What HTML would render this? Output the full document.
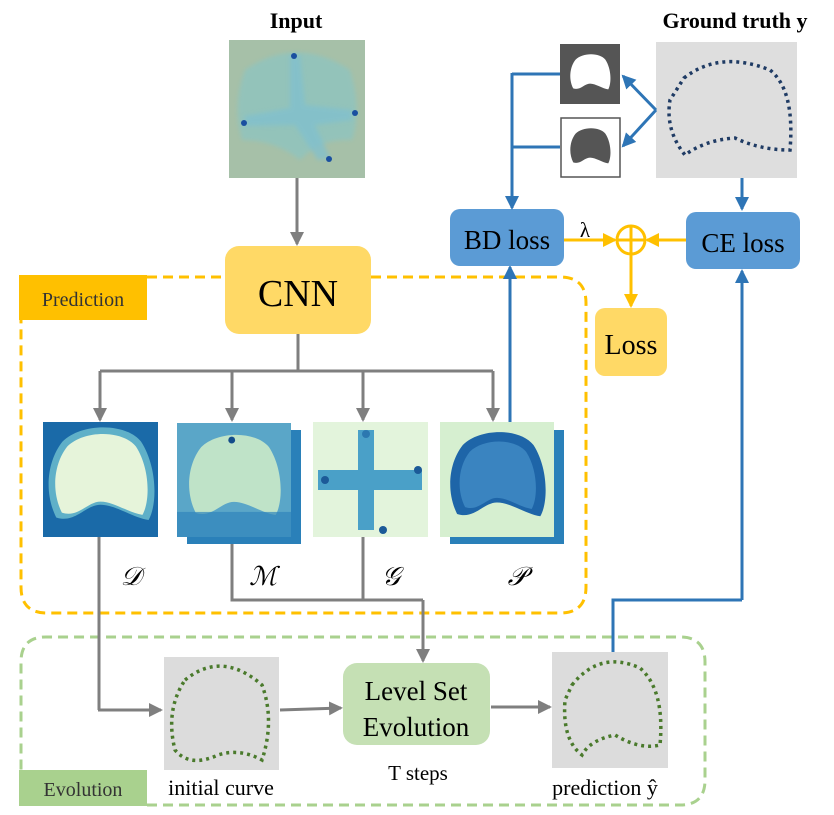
<!DOCTYPE html>
<html><head><meta charset="utf-8"><style>html,body{margin:0;padding:0;background:#fff}svg{display:block}</style></head>
<body>
<svg width="834" height="815" viewBox="0 0 834 815" xmlns="http://www.w3.org/2000/svg" font-family="Liberation Serif, serif">
<defs>
<marker id="ag" markerWidth="14" markerHeight="14" refX="12" refY="7" orient="auto" markerUnits="userSpaceOnUse"><path d="M0,0 L14,7 L0,14 Z" fill="#7f7f7f"/></marker>
<marker id="ab" markerWidth="14" markerHeight="14" refX="12" refY="7" orient="auto" markerUnits="userSpaceOnUse"><path d="M0,0 L14,7 L0,14 Z" fill="#2e75b6"/></marker>
<marker id="ay" markerWidth="14" markerHeight="14" refX="12" refY="7" orient="auto" markerUnits="userSpaceOnUse"><path d="M0,0 L14,7 L0,14 Z" fill="#ffc000"/></marker>
<filter id="bl2"><feGaussianBlur stdDeviation="2"/></filter>
<path id="pros" d="M0.2,0.2 C0.35,0.05 0.7,0.05 0.82,0.2 C0.95,0.4 0.95,0.7 0.88,0.82 C0.75,0.8 0.62,0.7 0.5,0.7 C0.38,0.7 0.3,0.85 0.15,0.8 C0.05,0.6 0.08,0.35 0.2,0.2Z"/>
</defs>

<text x="296" y="28" font-size="22" font-weight="bold" text-anchor="middle">Input</text>
<text x="735" y="28" font-size="22" font-weight="bold" text-anchor="middle">Ground truth y</text>

<rect x="229" y="40" width="136" height="138" fill="#a6c0a8"/>
<path d="M245,70 Q296,35 350,70 Q362,110 352,140 Q320,138 300,160 Q275,140 242,140 Q232,105 245,70Z" fill="#8fc4bf" opacity="0.8" filter="url(#bl2)"/>
<path d="M290,55 L300,55 L305,105 L352,110 L352,120 L315,125 L330,158 L318,160 L295,125 L245,126 L245,116 L290,108Z" fill="#7fc0d0" opacity="0.7" filter="url(#bl2)"/>
<circle cx="294" cy="56" r="3" fill="#1a4fa0"/><circle cx="244" cy="123" r="3" fill="#1a4fa0"/><circle cx="355" cy="113" r="3" fill="#1a4fa0"/><circle cx="329" cy="159" r="3" fill="#1a4fa0"/>
<line x1="297" y1="178" x2="297" y2="244" stroke="#7f7f7f" stroke-width="3" marker-end="url(#ag)"/>

<path d="M147,277 L560,277 Q586,277 586,303 L586,587 Q586,613 560,613 L47,613 Q21,613 21,587 L21,320" fill="none" stroke="#ffc000" stroke-width="3" stroke-dasharray="10,6"/>
<rect x="19" y="275" width="128" height="45" fill="#ffc000"/>
<text x="83" y="306" font-size="20" fill="#333" text-anchor="middle">Prediction</text>

<rect x="225" y="246" width="146" height="88" rx="14" fill="#ffd966"/>
<text x="298" y="306" font-size="38" text-anchor="middle">CNN</text>

<path d="M298,334 V371 M100,371 H493" stroke="#7f7f7f" stroke-width="3" fill="none"/>
<line x1="100" y1="371" x2="100" y2="420" stroke="#7f7f7f" stroke-width="3" marker-end="url(#ag)"/>
<line x1="232" y1="371" x2="232" y2="420" stroke="#7f7f7f" stroke-width="3" marker-end="url(#ag)"/>
<line x1="363" y1="371" x2="363" y2="420" stroke="#7f7f7f" stroke-width="3" marker-end="url(#ag)"/>
<line x1="493" y1="371" x2="493" y2="420" stroke="#7f7f7f" stroke-width="3" marker-end="url(#ag)"/>

<svg x="43" y="422" width="115" height="115" viewBox="0 0 1 1" preserveAspectRatio="none">
<rect width="1" height="1" fill="#1a6aa8"/>
<use href="#pros" fill="#5fb0c8" transform="translate(-0.05,-0.05) scale(1.1)"/>
<use href="#pros" fill="#e6f4da" transform="translate(0.02,0.02) scale(0.96)"/>
</svg>
<rect x="187" y="430" width="114" height="114" fill="#2a80b9"/>
<svg x="177" y="423" width="114" height="114" viewBox="0 0 1 1" preserveAspectRatio="none">
<rect width="1" height="1" fill="#5aa6c8"/>
<use href="#pros" fill="#bfe3c8" transform="translate(0.02,0.02) scale(0.96)"/>
<rect y="0.78" width="1" height="0.22" fill="#2f84ba" opacity="0.7"/>
<circle cx="0.48" cy="0.15" r="0.03" fill="#134c8a"/>
</svg>
<rect x="313" y="422" width="115" height="115" fill="#e3f4dc"/>
<path d="M358,430 h16 v40 h48 v20 h-48 v40 h-16 v-40 h-40 v-20 h40 z" fill="#4aa0c8"/>
<circle cx="366" cy="434" r="4" fill="#2c78b0"/><circle cx="325" cy="480" r="4" fill="#1c5a98"/><circle cx="418" cy="470" r="4" fill="#1c5a98"/><circle cx="383" cy="530" r="4" fill="#1c5a98"/>
<rect x="450" y="430" width="114" height="114" fill="#2a80b9"/>
<svg x="440" y="422" width="114" height="115" viewBox="0 0 1 1" preserveAspectRatio="none">
<rect width="1" height="1" fill="#d6efd0"/>
<use href="#pros" fill="#1e65a8"/>
<use href="#pros" fill="#3a84c0" transform="translate(0.1,0.1) scale(0.8)"/>
</svg>

<text x="131" y="585" font-size="26" font-style="italic" text-anchor="middle">𝒟</text>
<text x="263" y="585" font-size="26" font-style="italic" text-anchor="middle">ℳ</text>
<text x="391" y="585" font-size="26" font-style="italic" text-anchor="middle">𝒢</text>
<text x="517" y="585" font-size="26" font-style="italic" text-anchor="middle">𝒫</text>

<path d="M147,805 L680,805 Q705,805 705,780 L705,662 Q705,637 680,637 L46,637 Q21,637 21,662 L21,770" fill="none" stroke="#a9d18e" stroke-width="3" stroke-dasharray="10,6"/>
<rect x="19" y="770" width="128" height="36" fill="#a9d18e"/>
<text x="83" y="796" font-size="20" fill="#333" text-anchor="middle">Evolution</text>

<path d="M99,537 V710" stroke="#7f7f7f" stroke-width="3" fill="none"/>
<line x1="98" y1="710" x2="161" y2="710" stroke="#7f7f7f" stroke-width="3" marker-end="url(#ag)"/>
<path d="M232,544 V600 H423 M363,537 V600" stroke="#7f7f7f" stroke-width="3" fill="none"/>
<line x1="423" y1="600" x2="423" y2="661" stroke="#7f7f7f" stroke-width="3" marker-end="url(#ag)"/>

<rect x="164" y="657" width="115" height="113" fill="#dcdcdc"/>
<path d="M185,680 Q222,650 262,685 Q275,720 262,760 Q240,748 218,755 Q190,768 175,750 Q165,710 185,680 Z" fill="none" stroke="#4a7a2c" stroke-width="3.5" stroke-dasharray="3,4"/>
<line x1="280" y1="710" x2="341" y2="708" stroke="#7f7f7f" stroke-width="3" marker-end="url(#ag)"/>

<rect x="343" y="663" width="147" height="82" rx="14" fill="#c5e0b4"/>
<text x="416" y="700" font-size="27" text-anchor="middle">Level Set</text>
<text x="416" y="736" font-size="27" text-anchor="middle">Evolution</text>
<text x="418" y="780" font-size="21" text-anchor="middle">T steps</text>
<text x="221" y="795" font-size="22" text-anchor="middle">initial curve</text>

<line x1="491" y1="707" x2="550" y2="707" stroke="#7f7f7f" stroke-width="3" marker-end="url(#ag)"/>
<rect x="552" y="652" width="116" height="116" fill="#dcdcdc"/>
<path d="M572,685 Q600,650 640,668 Q665,690 660,745 Q640,750 615,735 Q590,740 582,755 Q562,740 565,700 Z" fill="none" stroke="#4a7a2c" stroke-width="3.5" stroke-dasharray="3,4"/>
<text x="605" y="795" font-size="22" text-anchor="middle">prediction ŷ</text>

<path d="M613,652 V600 H742" stroke="#2e75b6" stroke-width="3" fill="none"/>
<line x1="742" y1="600" x2="742" y2="271" stroke="#2e75b6" stroke-width="3" marker-end="url(#ab)"/>
<line x1="510" y1="422" x2="510" y2="267" stroke="#2e75b6" stroke-width="3" marker-end="url(#ab)"/>

<rect x="450" y="209" width="114" height="57" rx="10" fill="#5b9bd5"/>
<text x="507" y="249" font-size="27" text-anchor="middle">BD loss</text>
<rect x="686" y="212" width="114" height="57" rx="10" fill="#5b9bd5"/>
<text x="743" y="252" font-size="27" text-anchor="middle">CE loss</text>

<rect x="656" y="42" width="141" height="136" fill="#dedede"/>
<path d="M684,78 Q720,50 770,70 Q795,90 790,150 Q760,150 735,138 Q705,140 685,155 Q665,130 670,100 Z" fill="none" stroke="#1f3b64" stroke-width="3.5" stroke-dasharray="3,4"/>
<line x1="742" y1="178" x2="742" y2="209" stroke="#2e75b6" stroke-width="3" marker-end="url(#ab)"/>

<rect x="560" y="44" width="60" height="60" fill="#555"/>
<svg x="566" y="50" width="48" height="48" viewBox="0 0 1 1" preserveAspectRatio="none"><use href="#pros" fill="#fff"/></svg>
<rect x="561" y="118" width="59" height="59" fill="#fff" stroke="#555" stroke-width="1.5"/>
<svg x="566" y="124" width="48" height="48" viewBox="0 0 1 1" preserveAspectRatio="none"><use href="#pros" fill="#555"/></svg>

<line x1="656" y1="110" x2="623" y2="76" stroke="#2e75b6" stroke-width="3" marker-end="url(#ab)"/>
<line x1="656" y1="110" x2="623" y2="146" stroke="#2e75b6" stroke-width="3" marker-end="url(#ab)"/>
<path d="M560,74 H512 M560,147 H512" stroke="#2e75b6" stroke-width="3" fill="none"/>
<line x1="512" y1="73" x2="512" y2="208" stroke="#2e75b6" stroke-width="3" marker-end="url(#ab)"/>

<text x="585" y="237" font-size="21" text-anchor="middle">λ</text>
<line x1="564" y1="240" x2="615" y2="240" stroke="#ffc000" stroke-width="3" marker-end="url(#ay)"/>
<line x1="686" y1="240" x2="647" y2="240" stroke="#ffc000" stroke-width="3" marker-end="url(#ay)"/>
<circle cx="631" cy="240" r="14" fill="none" stroke="#ffc000" stroke-width="3"/>
<path d="M617,240 H645 M631,226 V254" stroke="#ffc000" stroke-width="3"/>
<line x1="631" y1="254" x2="631" y2="306" stroke="#ffc000" stroke-width="3" marker-end="url(#ay)"/>
<rect x="595" y="308" width="72" height="68" rx="10" fill="#ffd966"/>
<text x="631" y="354" font-size="28" text-anchor="middle">Loss</text>
</svg>
</body></html>
